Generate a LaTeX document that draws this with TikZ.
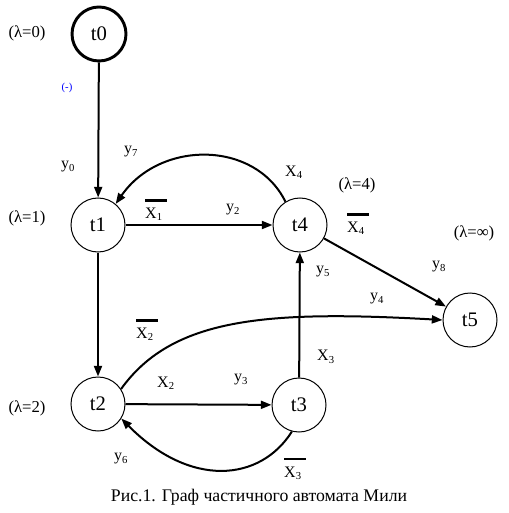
\documentclass[tikz,border=0pt]{standalone}
\usepackage{fontspec}
\setmainfont{Liberation Serif}
\usetikzlibrary{arrows.meta}

\newcommand{\barx}[1]{\rlap{\rule[12.5pt]{16pt}{1.6pt}}X\textsubscript{#1}}

\begin{document}
\begin{tikzpicture}[
  x=0.75pt, y=-0.75pt,
  st/.style={draw, circle, minimum size=40.5pt, inner sep=0pt, line width=0.75pt, font=\fontsize{15.5}{18}\selectfont},
  lab/.style={font=\fontsize{12}{14}\selectfont, inner sep=1pt},
  lam/.style={font=\fontsize{12.5}{15}\selectfont, inner sep=1pt},
  arr/.style={->, line width=1.5pt},
  >={Triangle[length=8pt,width=6pt]}]
\useasboundingbox (0,0) rectangle (509,513);
% states
\node[st, line width=2.2pt] (t0) at (99,34) {t0};
\node[st] (t1) at (98,225) {t1};
\node[st] (t4) at (300,225) {t4};
\node[st] (t5) at (470,320) {t5};
\node[st] (t2) at (98,404) {t2};
\node[st] (t3) at (299,405) {t3};
% lambda marks
\node[lam] (l0) at (27,33) {(λ=0)};
\node[lam] (l1) at (27,218) {(λ=1)};
\node[lam] (l2) at (27,408) {(λ=2)};
\node[lam] (l4) at (357,185) {(λ=4)};
\node[lam] (l5) at (474,233) {(λ=∞)};
\node[lab, text=blue, font=\fontsize{8}{9}\selectfont] (nul) at (67,88) {(-)};
% transitions
\draw[arr] (t0) -- (t1);
\draw[arr] (t1) -- (t4);
\draw[arr] (t1) -- (t2);
\draw[arr] (t2) -- (t3);
\draw[arr] (t3) -- (t4);
\draw[arr] (t4) -- (t5);
\draw[arr] (t4.122) .. controls (255,140) and (160,140) .. (t1.50);
\draw[arr] (t3.-105) .. controls (260,482) and (190,488) .. (t2.-32);
\draw[arr] (t2.33) .. controls (172,318) and (265,310) .. (t5.180);
% labels
\node[lab] (ly0) at (68,167) {y\textsubscript{0}};
\node[lab] (ly7) at (131,152) {y\textsubscript{7}};
\node[lab] (lx1) at (154,210) {\barx{1}};
\node[lab] (ly2) at (233,210) {y\textsubscript{2}};
\node[lab] (lx4) at (294,172) {X\textsubscript{4}};
\node[lab] (lnx4) at (356,224) {\barx{4}};
\node[lab] (ly5) at (323,272) {y\textsubscript{5}};
\node[lab] (ly8) at (439,267) {y\textsubscript{8}};
\node[lab] (ly4) at (377,299) {y\textsubscript{4}};
\node[lab] (lnx2) at (145,330) {\barx{2}};
\node[lab] (lx3) at (326,357) {X\textsubscript{3}};
\node[lab] (lx2) at (166,383) {X\textsubscript{2}};
\node[lab] (ly3) at (241,380) {y\textsubscript{3}};
\node[lab] (ly6) at (121,459) {y\textsubscript{6}};
\node[lab] (lnx3) at (293,469) {\barx{3}};
% caption
\node[font=\fontsize{13.3}{16}\selectfont] (cap) at (259,497) {Рис.1. Граф частичного автомата Мили};
\end{tikzpicture}
\end{document}
